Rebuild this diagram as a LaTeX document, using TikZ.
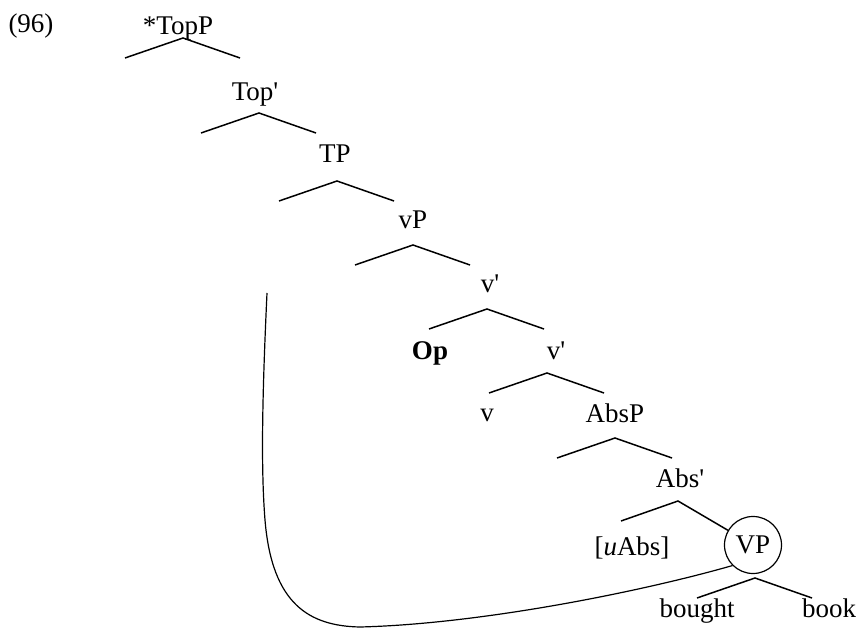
\documentclass[tikz,border=0pt]{standalone}
\usepackage{fontspec}
\setmainfont{Liberation Serif}
\tikzset{lab/.style={anchor=base,inner sep=0pt,font=\fontsize{27}{32}\selectfont},
         br/.style={line width=1.5pt},
         mv/.style={line width=1.2pt}}
\newcommand{\branch}[1]{\draw[br] (#1) +(-58,20) -- (#1) -- +(57,20);}
\newcommand{\pr}{\textquotesingle}

\begin{document}
\begin{tikzpicture}[x=1pt,y=-1pt]
 \useasboundingbox (0,0) rectangle (863,628);
 \node[lab] (ex) at (31,33) {(96)};
 % spine of the tree
 \node[lab] (topP) at (178,35) {*TopP};
 \node[lab] (topbar) at (255,101) {Top\pr};
 \node[lab] (tp) at (335,163) {TP};
 \node[lab] (vP) at (413,229) {vP};
 \node[lab] (vbar1) at (490,293) {v\pr};
 \node[lab] (op) at (430,360) {\textbf{Op}};
 \node[lab] (vbar2) at (556,360) {v\pr};
 \node[lab] (vv) at (487,422) {v};
 \node[lab] (absP) at (615,423) {AbsP};
 \node[lab] (absbar) at (680,488) {Abs\pr};
 \node[lab] (uabs) at (632,555) {[\textit{u}Abs]};
 \node[lab,anchor=center,draw,circle,line width=1.2pt,minimum size=57pt] (vp) at (753,545) {VP};
 \node[lab] (bought) at (697,617) {bought};
 \node[lab] (book) at (829,617) {book};
 % branch tops
 \coordinate (topP-a) at (183,38);
 \coordinate (topbar-a) at (259,113);
 \coordinate (tp-a) at (337,181);
 \coordinate (vP-a) at (413,245);
 \coordinate (vbar1-a) at (487,309);
 \coordinate (vbar2-a) at (547,373);
 \coordinate (absP-a) at (615,438);
 \coordinate (absbar-a) at (678,501);
 \coordinate (vp-a) at (755,578);
 \branch{topP-a} \branch{topbar-a} \branch{tp-a} \branch{vP-a}
 \branch{vbar1-a} \branch{vbar2-a} \branch{absP-a} \branch{vp-a}
 \draw[br] (absbar-a) +(-57,20) -- (absbar-a) -- (vp);
 % movement line
 \coordinate (trace) at (267,293);
 \draw[mv] (trace) .. controls (262,400) and (261,470) .. (265,520)
   .. controls (272,605) and (310,626) .. (360,627)
   .. controls (480,624) and (640,592) .. (vp.225);
\end{tikzpicture}
\end{document}
